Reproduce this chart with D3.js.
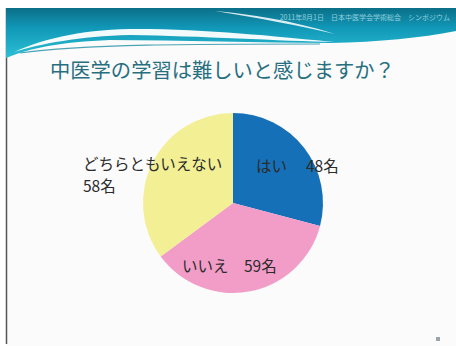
<!DOCTYPE html>
<html><head><meta charset="utf-8">
<script src="https://cdn.jsdelivr.net/npm/d3@7"></script>
<style>
html,body{margin:0;padding:0;background:#fff;}
svg{display:block;}
</style></head>
<body>
<svg id="chart" width="456" height="346"></svg>
<script>
// Survey answers: "Do you find studying Chinese medicine difficult?"
const categories = ["はい", "いいえ", "どちらともいえない"];
const counts = [48, 59, 58];
const sliceColors = ["#1670b8", "#f29cc8", "#f2ef94"];
const titleText = "中医学の学習は難しいと感じますか？";
const headerText = "2011年8月1日　日本中医学会学術総会　シンポジウム";

const svg = d3.select("#chart");
const W = 456, H = 346;

// Slide frame
svg.append("rect").attr("x", 0).attr("y", 0).attr("width", W).attr("height", H).attr("fill", "#ffffff");
svg.append("rect").attr("x", 6).attr("y", 8).attr("width", W - 6).attr("height", H - 8).attr("fill", "#fbfbfb");
svg.append("line").attr("x1", 6.5).attr("x2", 6.5).attr("y1", 8).attr("y2", 344)
  .attr("stroke", "#555").attr("stroke-width", 1.5);

// Header banner
const defs = svg.append("defs");
const grad = defs.append("linearGradient").attr("id", "band").attr("x1", 0).attr("y1", 0).attr("x2", 0).attr("y2", 1);
grad.append("stop").attr("offset", "0%").attr("stop-color", "#0b6f88");
grad.append("stop").attr("offset", "40%").attr("stop-color", "#1198b8");
grad.append("stop").attr("offset", "100%").attr("stop-color", "#2cc0d4");

svg.append("path")
  .attr("d", "M6,8 L456,8 L456,31 C420,38 380,42 330,43 C260,43 180,40 110,40 C60,42 30,48 6,58 Z")
  .attr("fill", "url(#band)");
// white swoosh across the banner
svg.append("path")
  .attr("d", "M14,52 C50,36 90,28 150,29 C220,30 290,38 335,42 C280,41 200,36 130,35 C80,36 40,44 14,52 Z")
  .attr("fill", "#ffffff").attr("opacity", 0.95);
svg.append("path")
  .attr("d", "M20,53 C80,44 200,44 320,44")
  .attr("fill", "none").attr("stroke", "#1d8ea4").attr("stroke-width", 1.2).attr("opacity", 0.8);
svg.append("path")
  .attr("d", "M215,11 C250,14 290,20 335,34 C300,26 260,18 215,11 Z")
  .attr("fill", "#ffffff").attr("opacity", 0.85);

svg.append("text")
  .attr("x", 450).attr("y", 20).attr("text-anchor", "end")
  .attr("font-family", "Noto Sans CJK JP").attr("font-size", 7)
  .attr("fill", "#bfe6ef").attr("opacity", 0.75)
  .text(headerText);

// Title
svg.append("text")
  .attr("x", 50).attr("y", 78)
  .attr("font-family", "Noto Sans CJK JP").attr("font-size", 20.3)
  .attr("fill", "#276f7f")
  .text(titleText);

// Pie
const cx = 233, cy = 203, r = 90;
const pie = d3.pie().sort(null).startAngle(0).endAngle(2 * Math.PI);
const arc = d3.arc().innerRadius(0).outerRadius(r);
const g = svg.append("g").attr("transform", `translate(${cx},${cy})`);
g.selectAll("path").data(pie(counts)).join("path")
  .attr("d", arc)
  .attr("fill", (d, i) => sliceColors[i]);

// Slice labels (one text element per line)
const labelFont = { family: "Noto Sans CJK JP", size: 15.5, color: "#2b2b2b" };
const labels = [
  { lines: [`${categories[0]}　 ${counts[0]}名`], x: 256, y: 172 },
  { lines: [`${categories[1]}　${counts[1]}名`], x: 182, y: 272 },
  { lines: [categories[2], `${counts[2]}名`], x: 83, y: 170 }
];
labels.forEach(l => {
  l.lines.forEach((s, k) => {
    svg.append("text")
      .attr("x", l.x).attr("y", l.y + k * 21.5)
      .attr("font-family", labelFont.family).attr("font-size", labelFont.size)
      .attr("fill", labelFont.color)
      .text(s);
  });
});

// Small slide-number marker
svg.append("rect").attr("x", 436).attr("y", 337).attr("width", 4).attr("height", 4).attr("fill", "#9aa4aa");
</script>
</body></html>
